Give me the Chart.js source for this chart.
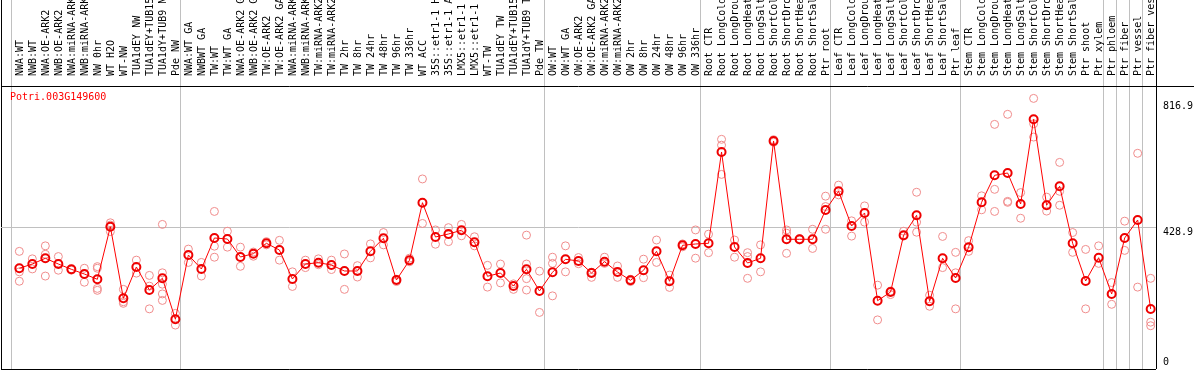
<!DOCTYPE html>
<html>
<head>
<meta charset="utf-8">
<script src="https://cdn.jsdelivr.net/npm/chart.js@4.4.0/dist/chart.umd.min.js"></script>
<style>
body { margin: 0; background: #fff; }
canvas { display: block; }
</style>
</head>
<body>
<canvas id="myChart" width="1194" height="370"></canvas>
<script>
const geneName = 'Potri.003G149600';

const samples = [
  'NWA:WT', 'NWB:WT', 'NWA:OE-ARK2', 'NWB:OE-ARK2', 'NWA:miRNA-ARK2', 'NWB:miRNA-ARK2',
  'NW 0hr', 'WT H2O', 'WT-NW', 'TUA1dEY NW', 'TUA1dEY+TUB15 NW', 'TUA1dY+TUB9 NW', 'Pde NW',
  'NWA:WT GA', 'NWBWT GA', 'TW:WT', 'TW:WT GA', 'NWA:OE-ARK2 GA', 'NWB:OE-ARK2 GA',
  'TW:OE-ARK2', 'TW:OE-ARK2 GA', 'NWA:miRNA-ARK2 GA', 'NWB:miRNA-ARK2 GA', 'TW:miRNA-ARK2',
  'TW:miRNA-ARK2 GA', 'TW 2hr', 'TW 8hr', 'TW 24hr', 'TW 48hr', 'TW 96hr', 'TW 336hr',
  'WT ACC', '35S::etr1-1 H2O', '35S::etr1-1 ACC', 'LMX5::etr1-1 H2O', 'LMX5::etr1-1 ACC',
  'WT-TW', 'TUA1dEY TW', 'TUA1dEY+TUB15 TW', 'TUA1dY+TUB9 TW', 'Pde TW',
  'OW:WT', 'OW:WT GA', 'OW:OE-ARK2', 'OW:OE-ARK2 GA', 'OW:miRNA-ARK2', 'OW:miRNA-ARK2 GA',
  'OW 2hr', 'OW 8hr', 'OW 24hr', 'OW 48hr', 'OW 96hr', 'OW 336hr',
  'Root CTR', 'Root LongCold', 'Root LongDrought', 'Root LongHeat', 'Root LongSalt',
  'Root ShortCold', 'Root ShortDrought', 'Root ShortHeat', 'Root ShortSalt', 'Ptr root',
  'Leaf CTR', 'Leaf LongCold', 'Leaf LongDrought', 'Leaf LongHeat', 'Leaf LongSalt',
  'Leaf ShortCold', 'Leaf ShortDrought', 'Leaf ShortHeat', 'Leaf ShortSalt', 'Ptr leaf',
  'Stem CTR', 'Stem LongCold', 'Stem LongDrought', 'Stem LongHeat', 'Stem LongSalt',
  'Stem ShortCold', 'Stem ShortDrought', 'Stem ShortHeat', 'Stem ShortSalt', 'Ptr shoot',
  'Ptr xylem', 'Ptr phloem', 'Ptr fiber', 'Ptr vessel', 'Ptr fiber vessel'
];

// mean expression per sample
const means = [
  303.9, 317.1, 334.7, 317.1, 300.8, 286.3, 270.0, 432.0, 211.5, 307.9, 237.1, 273.1, 146.9,
  344.8, 301.7, 397.2, 394.1, 338.7, 348.9, 380.9, 360.2, 271.0, 317.1, 321.1, 314.1, 295.6,
  295.6, 356.2, 396.3, 267.9, 328.5, 505.9, 400.3, 409.5, 420.9, 384.0, 279.3, 289.4, 249.4,
  300.8, 234.0,
  291.6, 331.6, 326.4, 289.4, 324.2, 292.5, 266.9, 297.7, 356.2, 263.9, 374.7, 378.7,
  380.9, 662.0, 369.5, 320.2, 334.7, 695.9, 393.2, 393.2, 393.2, 483.4,
  541.0, 434.1, 474.2, 204.1, 230.9, 405.5, 467.1, 202.3, 334.7, 274.0,
  368.6, 507.1, 590.2, 597.3, 501.9, 762.7, 497.9, 556.4, 380.9, 264.8,
  336.5, 224.8, 397.2, 452.6, 178.6
];

// individual replicates per sample
const reps = [
  [356, 293, 264], [333, 302], [373, 347, 280], [340, 298], [301, 298], [304, 261],
  [309, 304, 242, 236], [444, 437, 417], [239, 201, 196], [329, 289], [282, 249, 179],
  [439, 290, 255, 225, 205], [165, 129],
  [363, 322], [322, 280], [479, 372, 338], [418, 369], [369, 310], [354, 341], [386, 376],
  [390, 329], [293, 248], [329, 306], [333, 315], [329, 300], [348, 239], [312, 277],
  [379, 336], [414, 376], [270, 263], [335, 324], [579, 442], [422, 378], [429, 386],
  [439, 404], [401, 373], [313, 246], [317, 259], [256, 239], [406, 317, 272, 237], [295, 168],
  [338, 319, 219], [373, 293], [337, 318], [276, 292], [338, 319], [311, 276], [263, 270],
  [332, 275], [391, 322], [283, 245], [379, 370], [422, 335],
  [409, 352], [701, 683, 593], [391, 338], [352, 340, 273], [376, 293], [700, 692],
  [422, 412, 350], [395, 391], [424, 365], [526, 494, 424],
  [560, 530], [450, 403], [496, 446], [252, 145], [223, 234], [418, 403], [538, 446, 415],
  [221, 187], [402, 306], [353, 290, 179],
  [389, 356], [527, 484], [747, 547, 479], [778, 510, 507], [537, 458], [827, 749, 708],
  [523, 480], [630, 541, 498], [414, 353], [362, 179],
  [373, 319], [260, 193], [449, 359], [658, 246], [273, 138, 127]
];

const groupStarts = [0, 13, 41, 53, 63, 73, 84, 85, 86, 87];
const yTicks = [0, 428.9, 816.9];

const yMin = -6.2, yMax = 865.2;
const xMin = -1.41, xMax = 87.41;
const mono = '"DejaVu Sans Mono", monospace';

const geneLabel = {
  id: 'geneLabel',
  afterDraw(chart) {
    const c = chart.ctx, a = chart.chartArea;
    c.save();
    c.fillStyle = '#ff0000';
    c.font = '10px ' + mono;
    c.textBaseline = 'middle';
    c.fillText(geneName, a.left + 9, a.top + 11);
    c.restore();
  }
};

new Chart(document.getElementById('myChart'), {
  type: 'scatter',
  data: {
    datasets: [{
      label: geneName,
      data: means.map((v, i) => ({x: i, y: v})),
      showLine: true,
      borderColor: '#ff0000',
      borderWidth: 1,
      pointRadius: 4,
      pointBorderWidth: 2,
      pointBorderColor: '#ee0000',
      pointBackgroundColor: 'rgba(0,0,0,0)',
      order: 0
    }, {
      label: 'replicates',
      data: reps.flatMap((arr, i) => arr.map(v => ({x: i, y: v}))),
      showLine: false,
      pointRadius: 4,
      pointBorderWidth: 1,
      pointBorderColor: '#f08c8c',
      pointBackgroundColor: 'rgba(0,0,0,0)',
      order: 1
    }]
  },
  options: {
    responsive: false,
    animation: false,
    devicePixelRatio: 1,
    layout: { autoPadding: false, padding: { left: 1, right: 0, top: 0, bottom: 1 } },
    plugins: { legend: { display: false }, tooltip: { enabled: false } },
    scales: {
      x: {
        type: 'linear', position: 'top', min: xMin, max: xMax, weight: 1,
        afterBuildTicks: s => { s.ticks = samples.map((n, i) => ({value: i})); },
        afterFit: s => { s.height = 86; s.paddingLeft = 0; s.paddingRight = 0; },
        grid: { display: false },
        border: { display: false },
        ticks: {
          autoSkip: false, minRotation: 90, maxRotation: 90, padding: 2, labelOffset: 13,
          color: '#000', font: { family: mono, size: 10 },
          callback: v => samples[v]
        }
      },
      xs: {
        type: 'linear', position: 'top', min: xMin, max: xMax, weight: 0,
        afterBuildTicks: s => {
          s.ticks = [xMin, ...groupStarts.map(g => g - 0.64), xMax].map(v => ({value: v}));
        },
        afterFit: s => { s.height = 0; s.paddingLeft = 0; s.paddingRight = 0; },
        grid: {
          color: c => (c.tick.value === xMin || c.tick.value === xMax) ? '#000' : '#c0c0c0',
          tickLength: 86
        },
        border: { display: false },
        ticks: { display: false }
      },
      y: {
        position: 'right', min: yMin, max: yMax,
        afterBuildTicks: s => { s.ticks = [yMin, ...yTicks, yMax].map(v => ({value: v})); },
        afterFit: s => { s.width = 38; s.paddingTop = 0; s.paddingBottom = 0; },
        grid: {
          color: c => c.tick.value === 428.9 ? '#c0c0c0'
            : ((c.tick.value === yMin || c.tick.value === yMax) ? '#000' : 'rgba(0,0,0,0)'),
          tickLength: 38,
          tickColor: c => c.tick.value === yMax ? '#000' : 'rgba(0,0,0,0)'
        },
        border: { display: false },
        ticks: {
          padding: -31, color: '#000', font: { family: mono, size: 10, lineHeight: 1 },
          callback: v => v === 0 ? ['0', ''] : (yTicks.includes(v) ? ['', String(v)] : '')
        }
      }
    }
  },
  plugins: [geneLabel]
});
</script>
</body>
</html>
